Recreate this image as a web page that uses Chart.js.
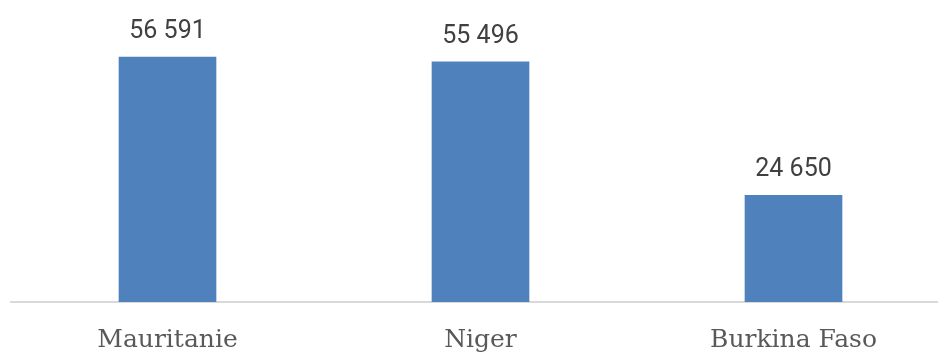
<!doctype html>
<html lang="fr">
<head>
  <meta charset="utf-8">
  <title>Pays</title>
  <script src="https://cdn.jsdelivr.net/npm/chart.js@4/dist/chart.umd.min.js"></script>
  <style>
    html, body { margin: 0; padding: 0; background: #fff; overflow: hidden; }
    .wrap { width: 938px; height: 353px; overflow: hidden; }
    .box { width: 950px; height: 353px; }
  </style>
</head>
<body>
  <div class="wrap"><div class="box"><canvas id="canvas"></canvas></div></div>
  <script>
    var pays = ['Mauritanie', 'Niger', 'Burkina Faso'];
    var valeurs = [56591, 55496, 24650];

    function formater(v) {
      return String(v).replace(/\B(?=(\d{3})+(?!\d))/g, ' ');
    }

    // etiquettes de valeur au-dessus des barres
    var etiquettes = {
      id: 'etiquettes',
      afterDatasetsDraw: function(chart) {
        var ctx = chart.ctx;
        var meta = chart.getDatasetMeta(0);
        ctx.save();
        ctx.font = '25px Roboto';
        ctx.fillStyle = '#404040';
        ctx.textAlign = 'center';
        ctx.textBaseline = 'alphabetic';
        meta.data.forEach(function(bar, i) {
          ctx.fillText(formater(valeurs[i]), bar.x, bar.y - 19);
        });
        ctx.restore();
      }
    };

    var ctx = document.getElementById('canvas').getContext('2d');
    new Chart(ctx, {
      type: 'bar',
      data: {
        labels: pays,
        datasets: [{
          data: valeurs,
          backgroundColor: '#4f81bd',
          barThickness: 97
        }]
      },
      options: {
        responsive: true,
        maintainAspectRatio: false,
        animation: false,
        layout: { padding: { left: 11, right: 0, top: 0, bottom: 0 } },
        plugins: { legend: { display: false }, tooltip: { enabled: false } },
        scales: {
          x: {
            grid: { display: false },
            border: { color: '#d9d9d9', width: 2 },
            ticks: { color: '#595959', font: { family: 'DejaVu Serif', size: 25 }, padding: 15 },
            afterFit: function(scale) { scale.height = 51; }
          },
          y: {
            display: false,
            min: 0,
            max: 69760
          }
        }
      },
      plugins: [etiquettes]
    });
  </script>
</body>
</html>
